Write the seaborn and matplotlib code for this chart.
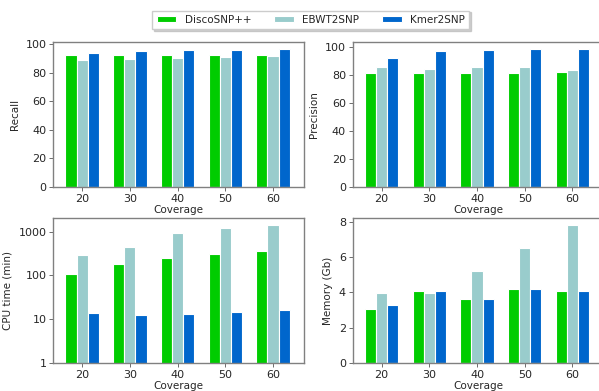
import seaborn as sns
import matplotlib.pyplot as plt
import matplotlib.ticker as mticker
import pandas as pd

coverage = ["20", "30", "40", "50", "60"]
tools = ["DiscoSNP++", "EBWT2SNP", "Kmer2SNP"]
colors = ["#00cc00", "#99cccc", "#0066cc"]

recall_disco = [92.5, 92.5, 92.5, 92.5, 92.5]
recall_ebwt = [88.7, 89.8, 90.5, 91.0, 91.5]
recall_kmer = [93.8, 95.2, 95.7, 96.0, 96.3]

precision_disco = [81.3, 81.3, 81.3, 81.3, 81.8]
precision_ebwt = [85.6, 83.8, 85.6, 85.3, 83.3]
precision_kmer = [91.5, 96.8, 97.8, 98.2, 98.2]

cpu_disco = [110, 185, 250, 305, 370]
cpu_ebwt = [300, 440, 950, 1200, 1400]
cpu_kmer = [14, 12.3, 13, 14.5, 16.5]

mem_disco = [3.05, 4.05, 3.6, 4.2, 4.08]
mem_ebwt = [3.97, 3.97, 5.2, 6.5, 7.8]
mem_kmer = [3.3, 4.08, 3.6, 4.2, 4.1]


def to_frame(disco, ebwt, kmer):
    rows = []
    for tool, vals in zip(tools, [disco, ebwt, kmer]):
        for c, v in zip(coverage, vals):
            rows.append({"Coverage": c, "Tool": tool, "value": v})
    return pd.DataFrame(rows)


sns.set_style("white")
plt.rcParams["font.family"] = ["DejaVu Sans"]
plt.rcParams["font.size"] = 7.5

fig = plt.figure(figsize=(5.99, 3.91), dpi=100)
w, h = 0.4182, 0.3708
ax1 = fig.add_axes([0.0893, 0.5217, w, h])
ax2 = fig.add_axes([0.5893, 0.5217, w, h])
ax3 = fig.add_axes([0.0893, 0.0716, w, h])
ax4 = fig.add_axes([0.5893, 0.0716, w, h])

ax3.set_yscale("log")

panels = [
    (ax1, to_frame(recall_disco, recall_ebwt, recall_kmer), "Recall"),
    (ax2, to_frame(precision_disco, precision_ebwt, precision_kmer), "Precision"),
    (ax3, to_frame(cpu_disco, cpu_ebwt, cpu_kmer), "CPU time (min)"),
    (ax4, to_frame(mem_disco, mem_ebwt, mem_kmer), "Memory (Gb)"),
]

for ax, df, label in panels:
    sns.barplot(data=df, x="Coverage", y="value", hue="Tool", order=coverage,
                hue_order=tools, palette=colors, width=0.7, edgecolor="white",
                linewidth=0.8, saturation=1, ax=ax, legend=(ax is ax1))
    ax.set_xlim(-0.6, 4.65)
    ax.set_ylabel(label, fontsize=7.5)
    ax.set_xlabel("Coverage", fontsize=7.5, labelpad=1)
    ax.tick_params(axis="both", labelsize=8, length=3, width=0.6,
                   color="#555555", pad=2, left=True, bottom=True)
    for s in ax.spines.values():
        s.set_color("#808080")
        s.set_linewidth(1.0)

# right column runs past the edge of the picture, as in the original
for ax in (ax2, ax4):
    ax.spines["right"].set_visible(False)

ax1.set_ylim(0, 101.4)
ax2.set_ylim(0, 103.2)
ax3.set_ylim(1, 2050)
ax3.yaxis.set_major_formatter(mticker.FuncFormatter(lambda v, p: f"{v:g}"))
ax3.yaxis.set_minor_locator(mticker.NullLocator())
ax4.set_ylim(0, 8.2)

handles, labels = ax1.get_legend_handles_labels()
ax1.get_legend().remove()
fig.legend(handles, labels, loc="center", bbox_to_anchor=(0.519, 0.949), ncol=3,
           fontsize=7.5, frameon=True, fancybox=False,
           shadow={"ox": 1, "oy": -1.2, "color": "#b0b0b0", "alpha": 0.6},
           handlelength=1.9, handleheight=0.5, columnspacing=2.2,
           edgecolor="#cccccc", framealpha=1)

fig.savefig("out.png", dpi=100)
